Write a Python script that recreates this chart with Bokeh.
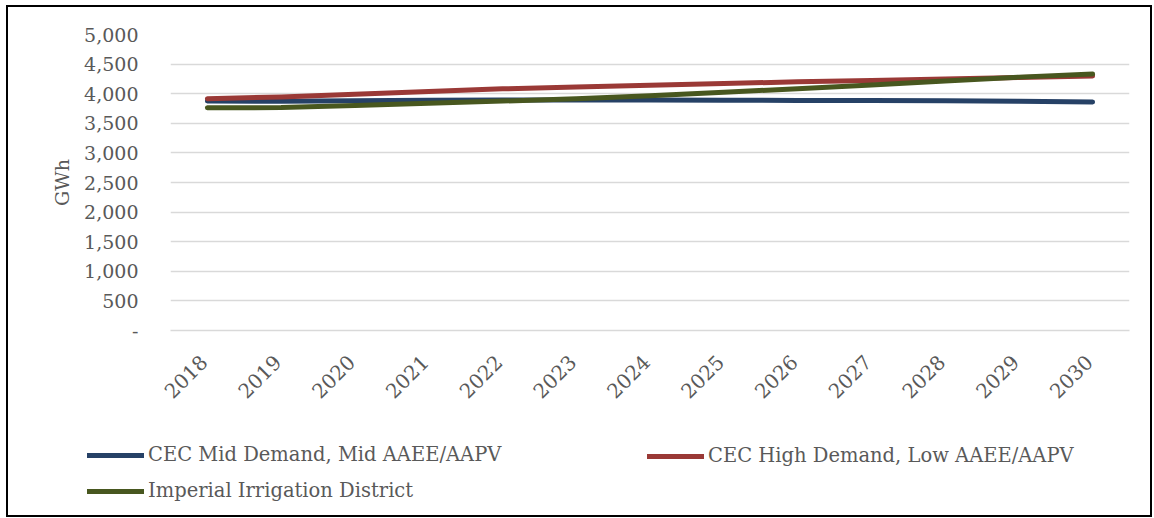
from bokeh.plotting import figure
from bokeh.models import (FixedTicker, NumeralTickFormatter, Legend, LegendItem,
                          Range1d, LinearAxis)
from bokeh.layouts import column
from bokeh.embed import file_html
from bokeh.resources import INLINE
import math

years = ["2018", "2019", "2020", "2021", "2022", "2023", "2024", "2025", "2026", "2027", "2028", "2029", "2030"]
mid_demand = [3876, 3872, 3880, 3888, 3893, 3895, 3893, 3890, 3887, 3884, 3879, 3871, 3859]
high_demand = [3915, 3945, 3990, 4038, 4082, 4112, 4142, 4172, 4200, 4225, 4250, 4275, 4300]
iid = [3762, 3765, 3800, 3838, 3875, 3915, 3965, 4025, 4085, 4148, 4215, 4280, 4332]
y_ticks = [0, 500, 1000, 1500, 2000, 2500, 3000, 3500, 4000, 4500, 5000]
series_names = ["CEC Mid Demand, Mid AAEE/AAPV", "CEC High Demand, Low AAEE/AAPV", "Imperial Irrigation District"]
series_colors = ["#264166", "#9a3936", "#48571f"]

FONT = "DejaVu Serif"
GREY = "#595959"
BORDER = "2px solid #000000"

n = len(years)
x_pos = [i + 0.5 for i in range(n)]  # category centres
series_values = [mid_demand, high_demand, iid]

# ---------------- main chart ----------------
p = figure(width=1146, height=415, output_backend="svg", toolbar_location=None,
           x_range=Range1d(0, n), y_range=Range1d(0, 5000),
           x_axis_location=None,
           min_border_left=162, min_border_right=25, min_border_top=27, min_border_bottom=92)
p.frame_align = False
p.styles = {"border-left": BORDER, "border-top": BORDER, "border-right": BORDER}
p.outline_line_color = None
p.background_fill_color = "white"
p.border_fill_color = "white"

for vals, col in zip(series_values, series_colors):
    p.line(x_pos, vals, line_color=col, line_width=5, line_cap="round", line_join="round")

p.xgrid.visible = False
p.ygrid.grid_line_color = "#d9d9d9"
p.ygrid.grid_line_width = 1.5

p.yaxis.ticker = FixedTicker(ticks=y_ticks)
p.yaxis.formatter = NumeralTickFormatter(format="0,0")
p.yaxis.major_label_overrides = {0: "-"}
p.yaxis.axis_line_color = None
p.yaxis.major_tick_line_color = None
p.yaxis.minor_tick_line_color = None
p.yaxis.major_label_standoff = 26
p.yaxis.major_label_text_font = FONT
p.yaxis.major_label_text_font_size = "19px"
p.yaxis.major_label_text_color = GREY
p.yaxis.axis_label = "GWh"
p.yaxis.axis_label_text_font = FONT
p.yaxis.axis_label_text_font_size = "19px"
p.yaxis.axis_label_text_font_style = "normal"
p.yaxis.axis_label_text_color = GREY
p.yaxis.axis_label_standoff = 8

# category labels on a helper axis (rotated labels end just at each category centre)
p.extra_x_ranges = {"lab": Range1d(0.55, n + 0.55)}
xlab = LinearAxis(x_range_name="lab", ticker=FixedTicker(ticks=list(range(1, n + 1))))
xlab.major_label_overrides = {i + 1: y for i, y in enumerate(years)}
xlab.axis_line_color = "#d9d9d9"
xlab.axis_line_width = 1.5
xlab.major_tick_line_color = None
xlab.minor_tick_line_color = None
xlab.major_label_orientation = math.pi / 4
xlab.major_label_standoff = 22
xlab.major_label_text_font = FONT
xlab.major_label_text_font_size = "20px"
xlab.major_label_text_color = GREY
p.add_layout(xlab, "below")

# ---------------- legend strip ----------------
q = figure(width=1146, height=97, output_backend="svg", toolbar_location=None,
           x_range=Range1d(0, n), y_range=Range1d(0, 1),
           x_axis_location=None, y_axis_location=None,
           min_border_left=0, min_border_right=0, min_border_top=0, min_border_bottom=0)
q.frame_align = False
q.styles = {"border-left": BORDER, "border-bottom": BORDER, "border-right": BORDER}
q.grid.visible = False
q.outline_line_color = None
q.background_fill_color = "white"
q.border_fill_color = "white"

# same series, out of this strip's view: only their legend swatches show
legend_renderers = [q.line(x_pos, vals, line_color=c, line_width=5, line_cap="round")
                    for vals, c in zip(series_values, series_colors)]

def make_legend(items, loc):
    lg = Legend(items=items, location=loc, orientation="vertical")
    lg.padding = 0
    lg.margin = 0
    lg.border_line_color = None
    lg.background_fill_alpha = 0
    lg.glyph_width = 57
    lg.glyph_height = 22
    lg.label_height = 22
    lg.label_standoff = 4
    lg.spacing = 13
    lg.label_text_font = FONT
    lg.label_text_font_size = "19.5px"
    lg.label_text_color = GREY
    return lg

leg1 = make_legend([LegendItem(label=series_names[0], renderers=[legend_renderers[0]]),
                    LegendItem(label=series_names[2], renderers=[legend_renderers[2]])], (79, 15))
leg2 = make_legend([LegendItem(label=series_names[1], renderers=[legend_renderers[1]])], (639, 50))
q.add_layout(leg1, "center")
q.add_layout(leg2, "center")

layout = column(p, q, spacing=0)
layout.styles = {"margin-left": "6px", "margin-top": "5px"}

open("out.html", "w").write(file_html(layout, INLINE))
